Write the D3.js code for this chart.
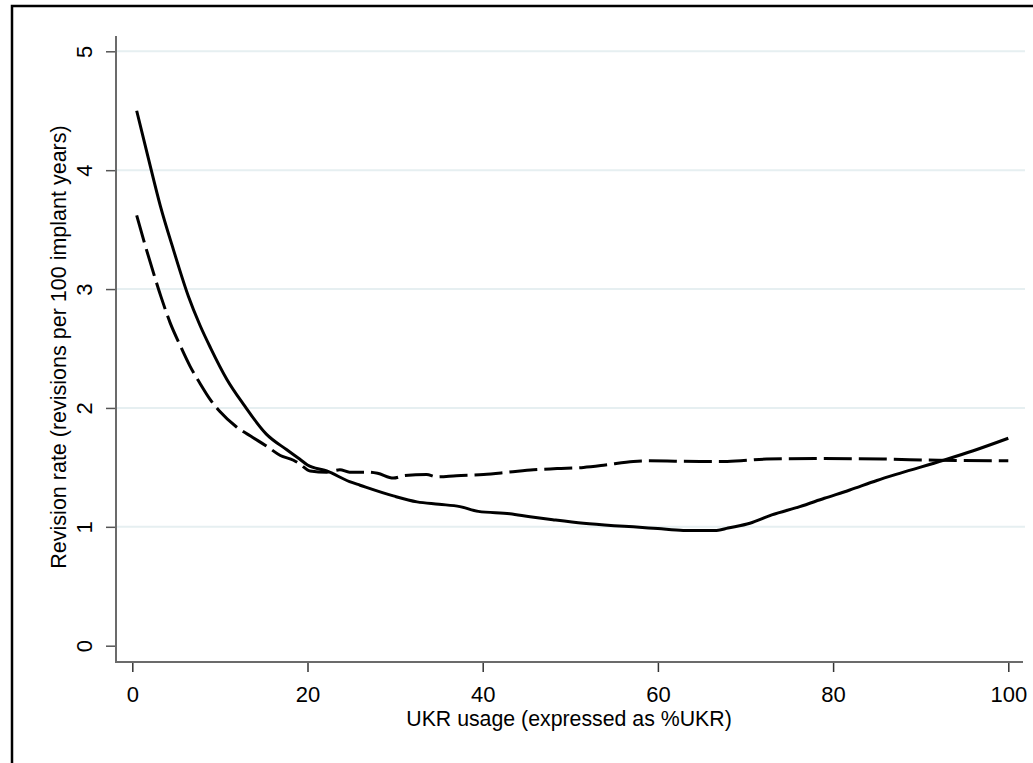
<!DOCTYPE html>
<html>
<head>
<meta charset="utf-8">
<script src="https://cdn.jsdelivr.net/npm/d3@7"></script>
<style>
  body { margin: 0; background: #fff; }
  svg { display: block; font-family: "Liberation Sans", Arial, sans-serif; }
</style>
</head>
<body>
<div id="chart"></div>
<script>
// values
const xTicks = [0, 20, 40, 60, 80, 100];
const yTicks = [0, 1, 2, 3, 4, 5];

const solidX = [0.5, 1.8, 3.2, 4.7, 6.4, 7.7, 8.9, 10.8, 12.7, 15.3, 17.6, 19.1, 20, 22.2, 24.8, 26, 29.8, 32.5, 35, 37.4, 39.5, 43.1, 45.4, 48, 51.5, 55, 57.2, 60, 62.9, 66.7, 68, 70.5, 73, 76.2, 79, 81.9, 85, 87.6, 92.6, 96, 100];
const solidY = [4.50, 4.11, 3.70, 3.33, 2.94, 2.70, 2.51, 2.24, 2.03, 1.78, 1.65, 1.57, 1.52, 1.47, 1.38, 1.35, 1.26, 1.21, 1.19, 1.17, 1.13, 1.11, 1.085, 1.06, 1.03, 1.01, 1.00, 0.985, 0.97, 0.97, 0.99, 1.03, 1.10, 1.17, 1.24, 1.31, 1.39, 1.45, 1.56, 1.64, 1.745];

const dashX = [0.5, 1.5, 2.4, 3.3, 4.3, 5.5, 6.6, 7.7, 8.9, 10, 11.9, 13.8, 15.3, 16.9, 18.4, 19.1, 20.3, 22.2, 23.7, 24.8, 26.8, 28, 29.8, 31, 33.6, 34.7, 37, 40.1, 43, 45.8, 48.5, 51.5, 54, 57.2, 59.1, 64.8, 67.9, 72.4, 78, 85.7, 92, 100];
const dashY = [3.62, 3.36, 3.14, 2.93, 2.72, 2.52, 2.35, 2.21, 2.07, 1.97, 1.84, 1.75, 1.68, 1.60, 1.56, 1.53, 1.47, 1.46, 1.48, 1.46, 1.46, 1.45, 1.41, 1.43, 1.44, 1.42, 1.43, 1.44, 1.46, 1.48, 1.49, 1.50, 1.52, 1.55, 1.555, 1.55, 1.55, 1.57, 1.575, 1.57, 1.56, 1.556];

const xTitle = "UKR usage (expressed as %UKR)";
const yTitle = "Revision rate (revisions per 100 implant years)";

const width = 1033, height = 763;
const axisLeftX = 116, axisBottomY = 662;

const svg = d3.select("#chart").append("svg")
  .attr("width", width)
  .attr("height", height);

// outer frame
svg.append("rect")
  .attr("x", 12).attr("y", 6)
  .attr("width", 1040).attr("height", 780)
  .attr("fill", "#fff")
  .attr("stroke", "#000")
  .attr("stroke-width", 2.5);

const x = d3.scaleLinear().domain([0, 100]).range([132.3, 1008.3]);
const y = d3.scaleLinear().domain([0, 5]).range([645.7, 51.3]);

// gridlines
svg.append("g")
  .selectAll("line")
  .data(yTicks.filter(d => d > 0))
  .enter().append("line")
  .attr("x1", axisLeftX).attr("x2", 1025)
  .attr("y1", d => y(d)).attr("y2", d => y(d))
  .attr("stroke", "#e6eff1")
  .attr("stroke-width", 2);

// axes
const xAxis = svg.append("g")
  .attr("transform", "translate(0," + axisBottomY + ")")
  .call(d3.axisBottom(x).tickValues(xTicks).tickSize(10).tickFormat(d3.format("d")));
xAxis.select(".domain").remove();
xAxis.selectAll(".tick line").attr("stroke", "#333").attr("stroke-width", 1.5);
xAxis.selectAll(".tick text")
  .attr("y", 40).attr("dy", 0)
  .attr("font-size", 22).attr("fill", "#000")
  .attr("font-family", "Liberation Sans, Arial, sans-serif");

const yAxis = svg.append("g")
  .attr("transform", "translate(" + axisLeftX + ",0)")
  .call(d3.axisLeft(y).tickValues(yTicks).tickSize(10).tickFormat(d3.format("d")));
yAxis.select(".domain").remove();
yAxis.selectAll(".tick line").attr("stroke", "#555").attr("stroke-width", 1.5);
yAxis.selectAll(".tick text")
  .attr("x", 0).attr("y", -24).attr("dy", 0)
  .attr("transform", "rotate(-90)")
  .attr("text-anchor", "middle")
  .attr("font-size", 22).attr("fill", "#000")
  .attr("font-family", "Liberation Sans, Arial, sans-serif");

// axis lines
svg.append("line")
  .attr("x1", axisLeftX).attr("x2", axisLeftX)
  .attr("y1", 36).attr("y2", axisBottomY)
  .attr("stroke", "#6b6b6b").attr("stroke-width", 2);
svg.append("line")
  .attr("x1", axisLeftX - 1).attr("x2", 1023)
  .attr("y1", axisBottomY).attr("y2", axisBottomY)
  .attr("stroke", "#6b6b6b").attr("stroke-width", 2);

// curves
const line = d3.line()
  .x(d => x(d[0]))
  .y(d => y(d[1]))
  .curve(d3.curveMonotoneX);

svg.append("path")
  .datum(solidX.map((v, i) => [v, solidY[i]]))
  .attr("d", line)
  .attr("fill", "none")
  .attr("stroke", "#000")
  .attr("stroke-width", 3);

svg.append("path")
  .datum(dashX.map((v, i) => [v, dashY[i]]))
  .attr("d", line)
  .attr("fill", "none")
  .attr("stroke", "#000")
  .attr("stroke-width", 3)
  .attr("stroke-dasharray", "28,7");

// titles
svg.append("text")
  .attr("x", 569).attr("y", 726)
  .attr("text-anchor", "middle")
  .attr("font-size", 21.3).attr("fill", "#000")
  .text(xTitle);

svg.append("text")
  .attr("transform", "translate(66,347) rotate(-90)")
  .attr("text-anchor", "middle")
  .attr("font-size", 21.5).attr("fill", "#000")
  .text(yTitle);
</script>
</body>
</html>
